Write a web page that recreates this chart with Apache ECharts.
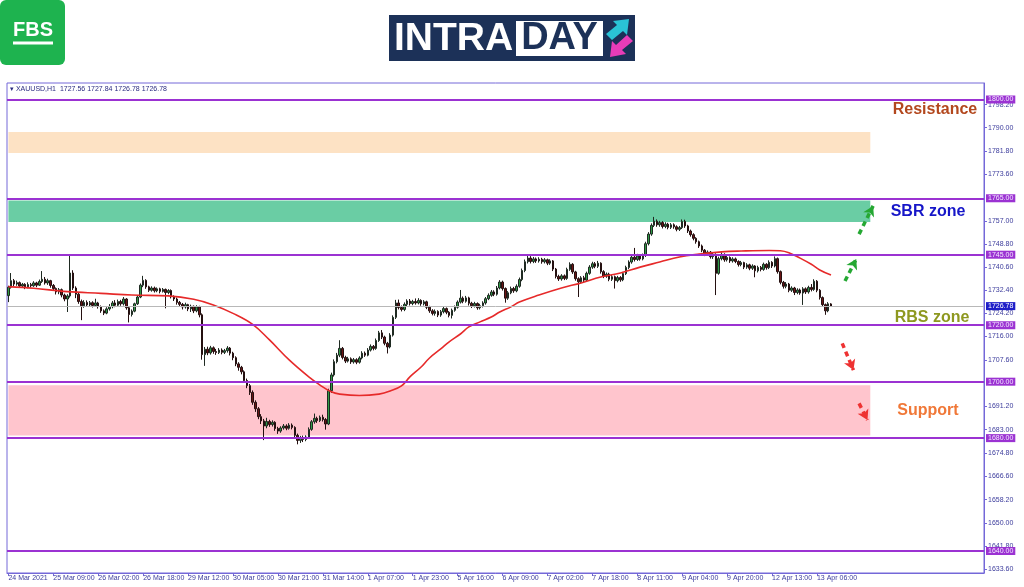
<!DOCTYPE html>
<html><head><meta charset="utf-8">
<script src="https://cdn.jsdelivr.net/npm/echarts@6/dist/echarts.min.js"></script>
<style>html,body{margin:0;padding:0;background:#fff;}#c{width:1024px;height:587px;}</style>
</head><body><div id="c"></div>
<script>
const symbolName = 'XAUUSD,H1';
const lastOHLC = [1727.56, 1727.84, 1726.78, 1726.78];
const barsPerLabel = 16;
const slotCount = 348;
const tickLabels = ['24 Mar 2021','25 Mar 09:00','26 Mar 02:00','26 Mar 18:00','29 Mar 12:00','30 Mar 05:00','30 Mar 21:00','31 Mar 14:00','1 Apr 07:00','1 Apr 23:00','5 Apr 16:00','6 Apr 09:00','7 Apr 02:00','7 Apr 18:00','8 Apr 11:00','9 Apr 04:00','9 Apr 20:00','12 Apr 13:00','13 Apr 06:00'];
const priceTicks = [1798.2,1790.0,1781.8,1773.6,1757.0,1748.8,1740.6,1732.4,1724.2,1716.0,1707.6,1691.2,1683.0,1674.8,1666.6,1658.2,1650.0,1641.8,1633.6];
const levels = [1800,1765,1745,1720,1700,1680,1640];
const currentPrice = 1726.78;
const resistanceZone = [1781.0, 1788.5];
const sbrZone = [1756.6, 1764.2];
const supportZone = [1680.9, 1698.7];
const zoneEndBar = 307;
const greenArrows = [[[303,1752.3],[308,1762.3]],[[298,1735.7],[302,1743.5]]];
const redArrows = [[[297,1713.6],[301,1704.1]],[[303,1692.3],[306,1686.4]]];
const maIdx = [0,9,21,33,44,57,66,73,80,87,93,100,107,111,115,118,125,132,136,140,143,147,150,154,157,161,164,168,172,175,179,182,189,197,204,211,218,225,232,239,246,254,261,271,275,278,282,286,289,293];
const maVal = [1733.7,1733.1,1731.9,1731.3,1730.7,1730.4,1729.2,1727.2,1724.2,1720.3,1714.8,1707.7,1701.7,1698.8,1696.4,1695.6,1695.1,1695.6,1696.7,1698.5,1701.7,1705.2,1708.4,1711.6,1714.1,1716.9,1719.4,1721.2,1722.9,1724.7,1726.5,1728.2,1730.7,1733.2,1735.0,1737.1,1738.5,1740.6,1742.4,1744.2,1745.2,1746.0,1746.3,1746.5,1746.4,1745.7,1743.8,1741.6,1739.6,1737.8];
// [open, close, low, high]
const candles = [
[1730.5,1733.5,1728.2,1734.0],[1733.5,1735.8,1733.0,1738.5],[1735.8,1734.6,1733.9,1736.4],[1734.6,1735.1,1734.0,1735.8],[1735.1,1733.9,1733.2,1735.5],
[1733.9,1734.5,1733.3,1735.0],[1734.5,1733.6,1732.8,1734.9],[1733.6,1734.4,1733.1,1735.2],[1734.4,1734.0,1733.4,1735.0],[1734.0,1735.0,1733.6,1735.6],
[1735.0,1734.2,1733.5,1735.4],[1734.2,1735.5,1733.9,1736.2],[1735.5,1736.3,1735.0,1739.2],[1736.3,1735.0,1734.4,1737.1],[1735.0,1735.8,1734.3,1736.5],
[1735.8,1734.1,1733.3,1736.1],[1734.1,1733.0,1732.2,1734.6],[1733.0,1731.8,1730.9,1733.4],[1731.8,1732.6,1731.0,1733.2],[1732.6,1730.7,1729.9,1733.0],
[1730.7,1729.3,1728.5,1731.2],[1729.3,1730.4,1724.7,1731.0],[1730.4,1738.5,1729.8,1745.0],[1738.5,1733.2,1732.5,1739.5],[1733.2,1731.0,1729.6,1733.8],
[1731.0,1728.4,1727.6,1731.6],[1728.4,1726.9,1721.8,1729.1],[1726.9,1728.1,1726.2,1728.9],[1728.1,1727.2,1726.5,1728.8],[1727.2,1728.0,1726.6,1728.6],
[1728.0,1727.0,1726.3,1728.5],[1727.0,1727.9,1726.5,1729.4],[1727.9,1726.6,1725.9,1728.3],[1726.6,1725.1,1724.4,1727.0],[1725.1,1724.3,1723.6,1725.6],
[1724.3,1725.8,1723.9,1726.4],[1725.8,1726.6,1725.2,1727.5],[1726.6,1727.9,1726.0,1728.6],[1727.9,1727.1,1726.4,1728.9],[1727.1,1728.4,1726.7,1729.1],
[1728.4,1727.6,1726.9,1729.0],[1727.6,1729.3,1727.0,1730.0],[1729.3,1726.2,1725.5,1729.6],[1726.2,1723.8,1721.0,1726.5],[1723.8,1725.0,1723.1,1725.6],
[1725.0,1727.6,1724.6,1728.0],[1727.6,1730.0,1727.2,1730.6],[1730.0,1734.2,1729.6,1734.8],[1734.2,1735.9,1733.5,1737.5],[1735.9,1733.6,1732.9,1736.3],
[1733.6,1732.4,1731.8,1734.0],[1732.4,1733.2,1731.9,1733.8],[1733.2,1732.2,1731.6,1733.7],[1732.2,1732.9,1731.7,1733.4],[1732.9,1732.0,1731.3,1733.3],
[1732.0,1732.7,1731.6,1733.2],[1732.7,1731.6,1726.0,1733.0],[1731.6,1732.3,1731.0,1732.8],[1732.3,1730.1,1729.5,1732.7],[1730.1,1729.3,1728.6,1730.6],
[1729.3,1728.1,1727.3,1729.8],[1728.1,1727.4,1726.7,1728.6],[1727.4,1726.5,1725.6,1727.9],[1726.5,1727.3,1725.9,1728.0],[1727.3,1725.8,1725.0,1727.6],
[1725.8,1726.7,1724.7,1727.3],[1726.7,1725.1,1724.3,1727.0],[1725.1,1726.5,1724.6,1727.1],[1726.5,1723.7,1722.8,1726.9],[1723.7,1709.6,1707.8,1724.2],
[1709.6,1711.5,1705.6,1712.3],[1711.5,1710.2,1709.4,1712.4],[1710.2,1712.0,1709.6,1712.7],[1712.0,1710.7,1709.9,1712.5],[1710.7,1710.3,1709.5,1711.6],
[1710.3,1711.2,1709.8,1711.9],[1711.2,1710.4,1709.7,1711.8],[1710.4,1711.0,1709.8,1711.6],[1711.0,1711.9,1710.3,1712.6],[1711.9,1710.1,1709.3,1712.3],
[1710.1,1708.5,1707.6,1710.6],[1708.5,1706.3,1705.5,1709.0],[1706.3,1705.1,1703.9,1706.9],[1705.1,1703.5,1702.6,1705.6],[1703.5,1700.4,1699.6,1704.0],
[1700.4,1698.6,1697.7,1701.1],[1698.6,1696.2,1695.3,1699.2],[1696.2,1692.7,1691.8,1696.9],[1692.7,1690.4,1689.3,1693.4],[1690.4,1687.6,1686.7,1691.0],
[1687.6,1686.1,1685.0,1688.5],[1686.1,1684.3,1679.3,1686.8],[1684.3,1685.9,1683.5,1687.2],[1685.9,1684.8,1684.0,1686.5],[1684.8,1685.6,1684.1,1686.3],
[1685.6,1683.4,1682.6,1686.0],[1683.4,1682.5,1681.5,1684.0],[1682.5,1683.6,1681.9,1684.2],[1683.6,1684.3,1683.0,1685.0],[1684.3,1683.5,1682.8,1684.9],
[1683.5,1684.6,1683.0,1685.3],[1684.6,1683.8,1683.1,1685.2],[1683.8,1681.0,1680.3,1684.2],[1681.0,1679.2,1677.8,1681.6],[1679.2,1680.1,1678.3,1680.8],
[1680.1,1679.5,1678.6,1680.9],[1679.5,1680.4,1678.9,1681.0],[1680.4,1683.1,1680.0,1683.8],[1683.1,1685.8,1682.6,1686.4],[1685.8,1687.0,1685.1,1688.7],
[1687.0,1686.2,1685.4,1687.6],[1686.2,1687.4,1685.7,1688.0],[1687.4,1686.6,1685.9,1688.3],[1686.6,1685.0,1683.0,1687.1],[1685.0,1696.8,1684.6,1697.5],
[1696.8,1702.4,1696.0,1703.2],[1702.4,1707.1,1701.8,1707.9],[1707.1,1709.4,1706.5,1710.2],[1709.4,1711.8,1708.7,1714.7],[1711.8,1708.6,1707.9,1712.3],
[1708.6,1707.3,1706.6,1709.2],[1707.3,1708.1,1706.8,1708.8],[1708.1,1707.0,1706.3,1708.6],[1707.0,1707.8,1706.4,1708.4],[1707.8,1706.9,1706.2,1708.3],
[1706.9,1708.4,1706.4,1709.0],[1708.4,1710.1,1707.9,1710.8],[1710.1,1709.4,1708.8,1710.7],[1709.4,1711.2,1709.0,1711.9],[1711.2,1712.5,1710.7,1713.2],
[1712.5,1711.8,1711.1,1713.0],[1711.8,1714.6,1711.3,1715.3],[1714.6,1717.3,1714.1,1718.0],[1717.3,1715.8,1715.1,1718.3],[1715.8,1713.6,1712.9,1716.3],
[1713.6,1712.3,1710.0,1714.1],[1712.3,1716.5,1711.8,1717.2],[1716.5,1722.8,1716.0,1723.5],[1722.8,1727.9,1722.2,1729.0],[1727.9,1726.3,1725.6,1729.1],
[1726.3,1725.6,1724.9,1727.0],[1725.6,1727.4,1725.0,1728.1],[1727.4,1728.6,1726.8,1729.2],[1728.6,1727.7,1727.0,1729.3],[1727.7,1728.4,1727.1,1729.0],
[1728.4,1727.9,1727.3,1729.5],[1727.9,1728.8,1727.4,1729.6],[1728.8,1727.6,1726.9,1729.2],[1727.6,1728.3,1727.0,1728.9],[1728.3,1726.4,1725.7,1728.7],
[1726.4,1725.1,1724.4,1726.9],[1725.1,1724.2,1723.5,1725.7],[1724.2,1724.9,1723.4,1725.6],[1724.9,1723.6,1722.9,1725.3],[1723.6,1724.8,1723.0,1725.4],
[1724.8,1725.9,1724.2,1726.6],[1725.9,1724.6,1723.9,1726.3],[1724.6,1723.5,1722.8,1725.0],[1723.5,1725.3,1722.4,1725.9],[1725.3,1726.4,1724.8,1727.0],
[1726.4,1728.2,1725.9,1728.8],[1728.2,1729.6,1727.7,1732.5],[1729.6,1728.5,1727.8,1730.2],[1728.5,1729.7,1728.0,1730.4],[1729.7,1727.8,1727.0,1730.1],
[1727.8,1726.9,1726.1,1728.3],[1726.9,1727.7,1726.3,1728.3],[1727.7,1726.2,1725.5,1728.1],[1726.2,1726.9,1725.6,1727.6],[1726.9,1727.9,1726.3,1728.5],
[1727.9,1729.4,1727.3,1730.0],[1729.4,1730.6,1728.9,1731.3],[1730.6,1731.8,1730.1,1732.5],[1731.8,1731.0,1730.3,1732.4],[1731.0,1733.2,1730.5,1733.9],
[1733.2,1735.3,1732.7,1736.0],[1735.3,1733.0,1732.3,1735.8],[1733.0,1729.6,1728.0,1733.4],[1729.6,1731.5,1729.0,1732.1],[1731.5,1733.0,1731.0,1733.7],
[1733.0,1732.2,1731.5,1733.6],[1732.2,1733.8,1731.7,1734.5],[1733.8,1736.2,1733.3,1736.9],[1736.2,1739.4,1735.6,1740.1],[1739.4,1742.5,1738.8,1743.3],
[1742.5,1743.8,1741.9,1745.0],[1743.8,1742.6,1741.9,1744.5],[1742.6,1743.5,1742.0,1744.2],[1743.5,1742.8,1742.1,1744.0],[1742.8,1743.4,1742.2,1744.1],
[1743.4,1742.5,1741.8,1743.9],[1742.5,1743.2,1741.9,1743.8],[1743.2,1742.0,1741.3,1743.6],[1742.0,1742.8,1741.4,1743.4],[1742.8,1739.9,1739.2,1743.1],
[1739.9,1737.3,1736.6,1740.3],[1737.3,1736.4,1735.7,1737.9],[1736.4,1737.5,1735.8,1738.1],[1737.5,1736.6,1736.0,1738.0],[1736.6,1739.8,1736.1,1740.4],
[1739.8,1741.6,1739.3,1742.3],[1741.6,1738.9,1738.2,1742.0],[1738.9,1736.5,1735.8,1739.3],[1736.5,1735.4,1730.0,1737.0],[1735.4,1736.8,1734.8,1737.4],
[1736.8,1736.0,1735.3,1737.5],[1736.0,1738.4,1735.5,1739.0],[1738.4,1740.6,1737.9,1741.3],[1740.6,1741.8,1740.0,1742.5],[1741.8,1740.9,1740.2,1742.4],
[1740.9,1742.0,1740.3,1742.8],[1742.0,1739.0,1738.3,1742.3],[1739.0,1737.4,1736.7,1739.5],[1737.4,1738.1,1736.8,1738.7],[1738.1,1736.3,1735.6,1738.6],
[1736.3,1737.2,1735.7,1737.8],[1737.2,1735.8,1733.0,1737.6],[1735.8,1736.9,1735.2,1737.5],[1736.9,1736.1,1735.4,1737.4],[1736.1,1738.3,1735.6,1738.9],
[1738.3,1740.5,1737.8,1741.1],[1740.5,1742.4,1739.9,1743.0],[1742.4,1744.1,1741.8,1744.8],[1744.1,1743.3,1742.6,1747.4],[1743.3,1744.6,1742.8,1745.3],
[1744.6,1743.5,1742.9,1745.1],[1743.5,1744.8,1743.0,1745.4],[1744.8,1748.9,1744.2,1749.6],[1748.9,1752.3,1748.3,1753.0],[1752.3,1755.4,1751.7,1756.1],
[1755.4,1756.9,1754.8,1758.4],[1756.9,1755.6,1754.9,1757.5],[1755.6,1756.4,1754.9,1757.0],[1756.4,1755.0,1754.3,1756.9],[1755.0,1755.8,1754.4,1756.5],
[1755.8,1754.7,1754.0,1756.3],[1754.7,1755.6,1754.1,1756.2],[1755.6,1754.9,1754.2,1756.1],[1754.9,1754.0,1753.3,1755.4],[1754.0,1754.6,1753.4,1755.2],
[1754.6,1756.8,1754.1,1757.5],[1756.8,1755.2,1754.5,1757.4],[1755.2,1753.4,1752.7,1755.6],[1753.4,1752.1,1751.4,1753.9],[1752.1,1750.8,1750.1,1752.6],
[1750.8,1749.6,1748.9,1751.2],[1749.6,1748.1,1747.4,1750.0],[1748.1,1746.6,1745.9,1748.6],[1746.6,1745.2,1744.5,1747.0],[1745.2,1745.9,1744.6,1746.5],
[1745.9,1744.3,1743.6,1746.3],[1744.3,1745.0,1743.5,1745.6],[1745.0,1738.4,1730.7,1745.5],[1738.4,1743.6,1737.9,1744.3],[1743.6,1745.1,1743.0,1745.8],
[1745.1,1743.2,1742.5,1745.5],[1743.2,1744.0,1742.6,1744.6],[1744.0,1742.8,1742.1,1744.4],[1742.8,1743.5,1742.2,1744.1],[1743.5,1742.6,1742.0,1744.0],
[1742.6,1741.5,1740.8,1743.0],[1741.5,1742.2,1740.9,1742.8],[1742.2,1740.6,1739.9,1742.5],[1740.6,1741.4,1740.0,1742.0],[1741.4,1740.2,1739.5,1741.8],
[1740.2,1741.0,1739.6,1741.6],[1741.0,1739.3,1737.0,1741.3],[1739.3,1740.5,1738.7,1741.1],[1740.5,1739.8,1739.1,1741.0],[1739.8,1741.6,1739.3,1742.2],
[1741.6,1740.4,1739.7,1742.0],[1740.4,1742.3,1739.9,1743.0],[1742.3,1741.0,1740.3,1742.7],[1741.0,1743.6,1740.5,1744.4],[1743.6,1739.0,1738.3,1744.0],
[1739.0,1735.2,1734.5,1739.4],[1735.2,1733.8,1733.0,1735.7],[1733.8,1734.6,1733.1,1735.3],[1734.6,1732.4,1731.7,1735.0],[1732.4,1733.2,1731.8,1733.8],
[1733.2,1731.6,1730.7,1733.6],[1731.6,1732.5,1731.0,1733.1],[1732.5,1731.4,1730.8,1733.0],[1731.4,1732.9,1727.2,1733.5],[1732.9,1731.8,1731.1,1733.4],
[1731.8,1733.4,1731.2,1734.0],[1733.4,1732.7,1732.0,1734.6],[1732.7,1735.6,1732.2,1736.3],[1735.6,1732.4,1731.7,1736.0],[1732.4,1729.8,1729.1,1732.8],
[1729.8,1727.3,1726.6,1730.2],[1727.3,1725.1,1723.7,1727.7],[1725.1,1727.6,1724.6,1728.2],[1727.56,1726.78,1726.78,1727.84]
];

const categories = Array.from({length: slotCount}, (_, i) => String(i));
const maData = maIdx.map((x, i) => [x, maVal[i]]);
const frameColor = '#7468d8';
const textColor = '#3c3c9c';
const lvlColor = '#9b32d2';
const isLabelSlot = (i) => i % barsPerLabel === 0 && i / barsPerLabel < tickLabels.length;

const chart = echarts.init(document.getElementById('c'), null, {renderer: 'canvas'});

function arrowLines(list, color) {
  return list.map(a => [
    {coord: a[0], lineStyle: {color: color, width: 3.5, type: [5, 4]}, symbol: 'none'},
    {coord: a[1], symbol: 'arrow'}
  ]);
}

const option = {
  animation: false,
  backgroundColor: '#ffffff',
  grid: {left: 7, right: 40, top: 83, bottom: 14, show: true, borderColor: frameColor, borderWidth: 1, backgroundColor: 'transparent'},
  xAxis: {
    type: 'category', data: categories, boundaryGap: true,
    axisLine: {show: true, lineStyle: {color: frameColor, width: 1}},
    axisTick: {show: true, interval: (i) => isLabelSlot(i), alignWithLabel: true, length: 3, lineStyle: {color: frameColor}},
    axisLabel: {
      interval: (i) => isLabelSlot(i), align: 'left', margin: 2, fontSize: 7, color: textColor,
      fontFamily: 'Liberation Sans',
      formatter: (v) => { const i = Number(v); return isLabelSlot(i) ? tickLabels[i / barsPerLabel] : ''; }
    },
    splitLine: {show: false}
  },
  yAxis: {
    type: 'value', position: 'right', min: 1632.2, max: 1805.85, scale: true,
    axisLine: {show: true, lineStyle: {color: frameColor, width: 1}},
    axisTick: {show: true, length: 3, customValues: priceTicks, lineStyle: {color: frameColor}},
    axisLabel: {customValues: priceTicks, margin: 4, fontSize: 7, color: textColor, fontFamily: 'Liberation Sans', formatter: v => v.toFixed(2)},
    splitLine: {show: false}
  },
  series: [
    {
      type: 'candlestick', data: candles, barWidth: 2, z: 3,
      itemStyle: {color: '#2f9a46', color0: '#6a1414', borderColor: '#1f2a22', borderColor0: '#241010', borderWidth: 1},
      markArea: {
        silent: true,
        data: [
          [{xAxis: 0, yAxis: resistanceZone[0], itemStyle: {color: '#fde2c4'}}, {xAxis: zoneEndBar, yAxis: resistanceZone[1]}],
          [{xAxis: 0, yAxis: sbrZone[0], itemStyle: {color: '#6acda4'}}, {xAxis: zoneEndBar, yAxis: sbrZone[1]}],
          [{xAxis: 0, yAxis: supportZone[0], itemStyle: {color: '#ffc5cd'}}, {xAxis: zoneEndBar, yAxis: supportZone[1]}]
        ]
      },
      markLine: {
        silent: true, symbol: ['none', 'none'], animation: false,
        data: levels.map(v => ({
          yAxis: v,
          lineStyle: {color: lvlColor, width: 2, type: 'solid'},
          label: {show: true, position: 'end', distance: 2, formatter: p => Number(p.value).toFixed(2), color: '#f4e8ff', backgroundColor: lvlColor, fontSize: 7, fontFamily: 'Liberation Sans', padding: [0, 2, 0, 2], lineHeight: 8}
        })).concat([{
          yAxis: currentPrice,
          lineStyle: {color: '#b8b8b8', width: 1, type: 'solid'},
          label: {show: true, position: 'end', distance: 2, formatter: p => Number(p.value).toFixed(2), color: '#ffffff', backgroundColor: '#1e1ec8', fontSize: 7, fontFamily: 'Liberation Sans', padding: [0, 2, 0, 2], lineHeight: 8}
        }])
      }
    },
    {
      type: 'line', data: maData, smooth: 0.4, showSymbol: false, z: 4,
      lineStyle: {color: '#e62a2a', width: 1.6},
      markLine: {
        silent: true, symbol: ['none', 'arrow'], symbolSize: [9, 10], label: {show: false},
        data: arrowLines(greenArrows, '#25a833').concat(arrowLines(redArrows, '#ee3232'))
      }
    }
  ],
  graphic: [
    {type: 'rect', shape: {x: 0, y: 0, width: 65, height: 65, r: 6}, style: {fill: '#1eb34f'}},
    {type: 'text', style: {x: 33, y: 30, text: 'FBS', fill: '#ffffff', font: 'bold 20px "Liberation Sans"', textAlign: 'center', textVerticalAlign: 'middle'}},
    {type: 'rect', shape: {x: 13, y: 41.5, width: 40, height: 3}, style: {fill: '#ffffff'}},
    {type: 'rect', shape: {x: 389, y: 15, width: 246, height: 46}, style: {fill: '#1c3158'}},
    {type: 'text', style: {x: 394, y: 39, text: 'INTRA', fill: '#ffffff', font: 'bold 39px "Liberation Sans"', textAlign: 'left', textVerticalAlign: 'middle'}},
    {type: 'rect', shape: {x: 516, y: 21, width: 87, height: 35}, style: {fill: '#ffffff'}},
    {type: 'text', style: {x: 559.5, y: 39, text: 'DAY', fill: '#1c3158', font: 'bold 38px "Liberation Sans"', textAlign: 'center', textVerticalAlign: 'middle'}},
    {type: 'polygon', shape: {points: [[606,34],[617,25],[613,21],[629,19],[627,35],[623,31],[612,40]]}, style: {fill: '#2ac3d6'}},
    {type: 'polygon', shape: {points: [[633,41],[622,50],[626,54],[610,57],[612,41],[616,45],[627,35]]}, style: {fill: '#e83cb8'}},
    {type: 'text', style: {x: 10, y: 89, text: '\u25BE ' + symbolName + '  ' + lastOHLC.map(v => v.toFixed(2)).join(' '), fill: '#2a2a80', font: '7px "Liberation Sans"', textVerticalAlign: 'middle'}},
    {type: 'text', style: {x: 935, y: 110, text: 'Resistance', fill: '#b3481e', font: 'bold 16px "Liberation Sans"', textAlign: 'center', textVerticalAlign: 'middle'}},
    {type: 'text', style: {x: 928, y: 212, text: 'SBR zone', fill: '#1616c8', font: 'bold 16px "Liberation Sans"', textAlign: 'center', textVerticalAlign: 'middle'}},
    {type: 'text', style: {x: 932, y: 318, text: 'RBS zone', fill: '#8e9820', font: 'bold 16px "Liberation Sans"', textAlign: 'center', textVerticalAlign: 'middle'}},
    {type: 'text', style: {x: 928, y: 411, text: 'Support', fill: '#f07838', font: 'bold 16px "Liberation Sans"', textAlign: 'center', textVerticalAlign: 'middle'}}
  ]
};
chart.setOption(option);
</script></body></html>
